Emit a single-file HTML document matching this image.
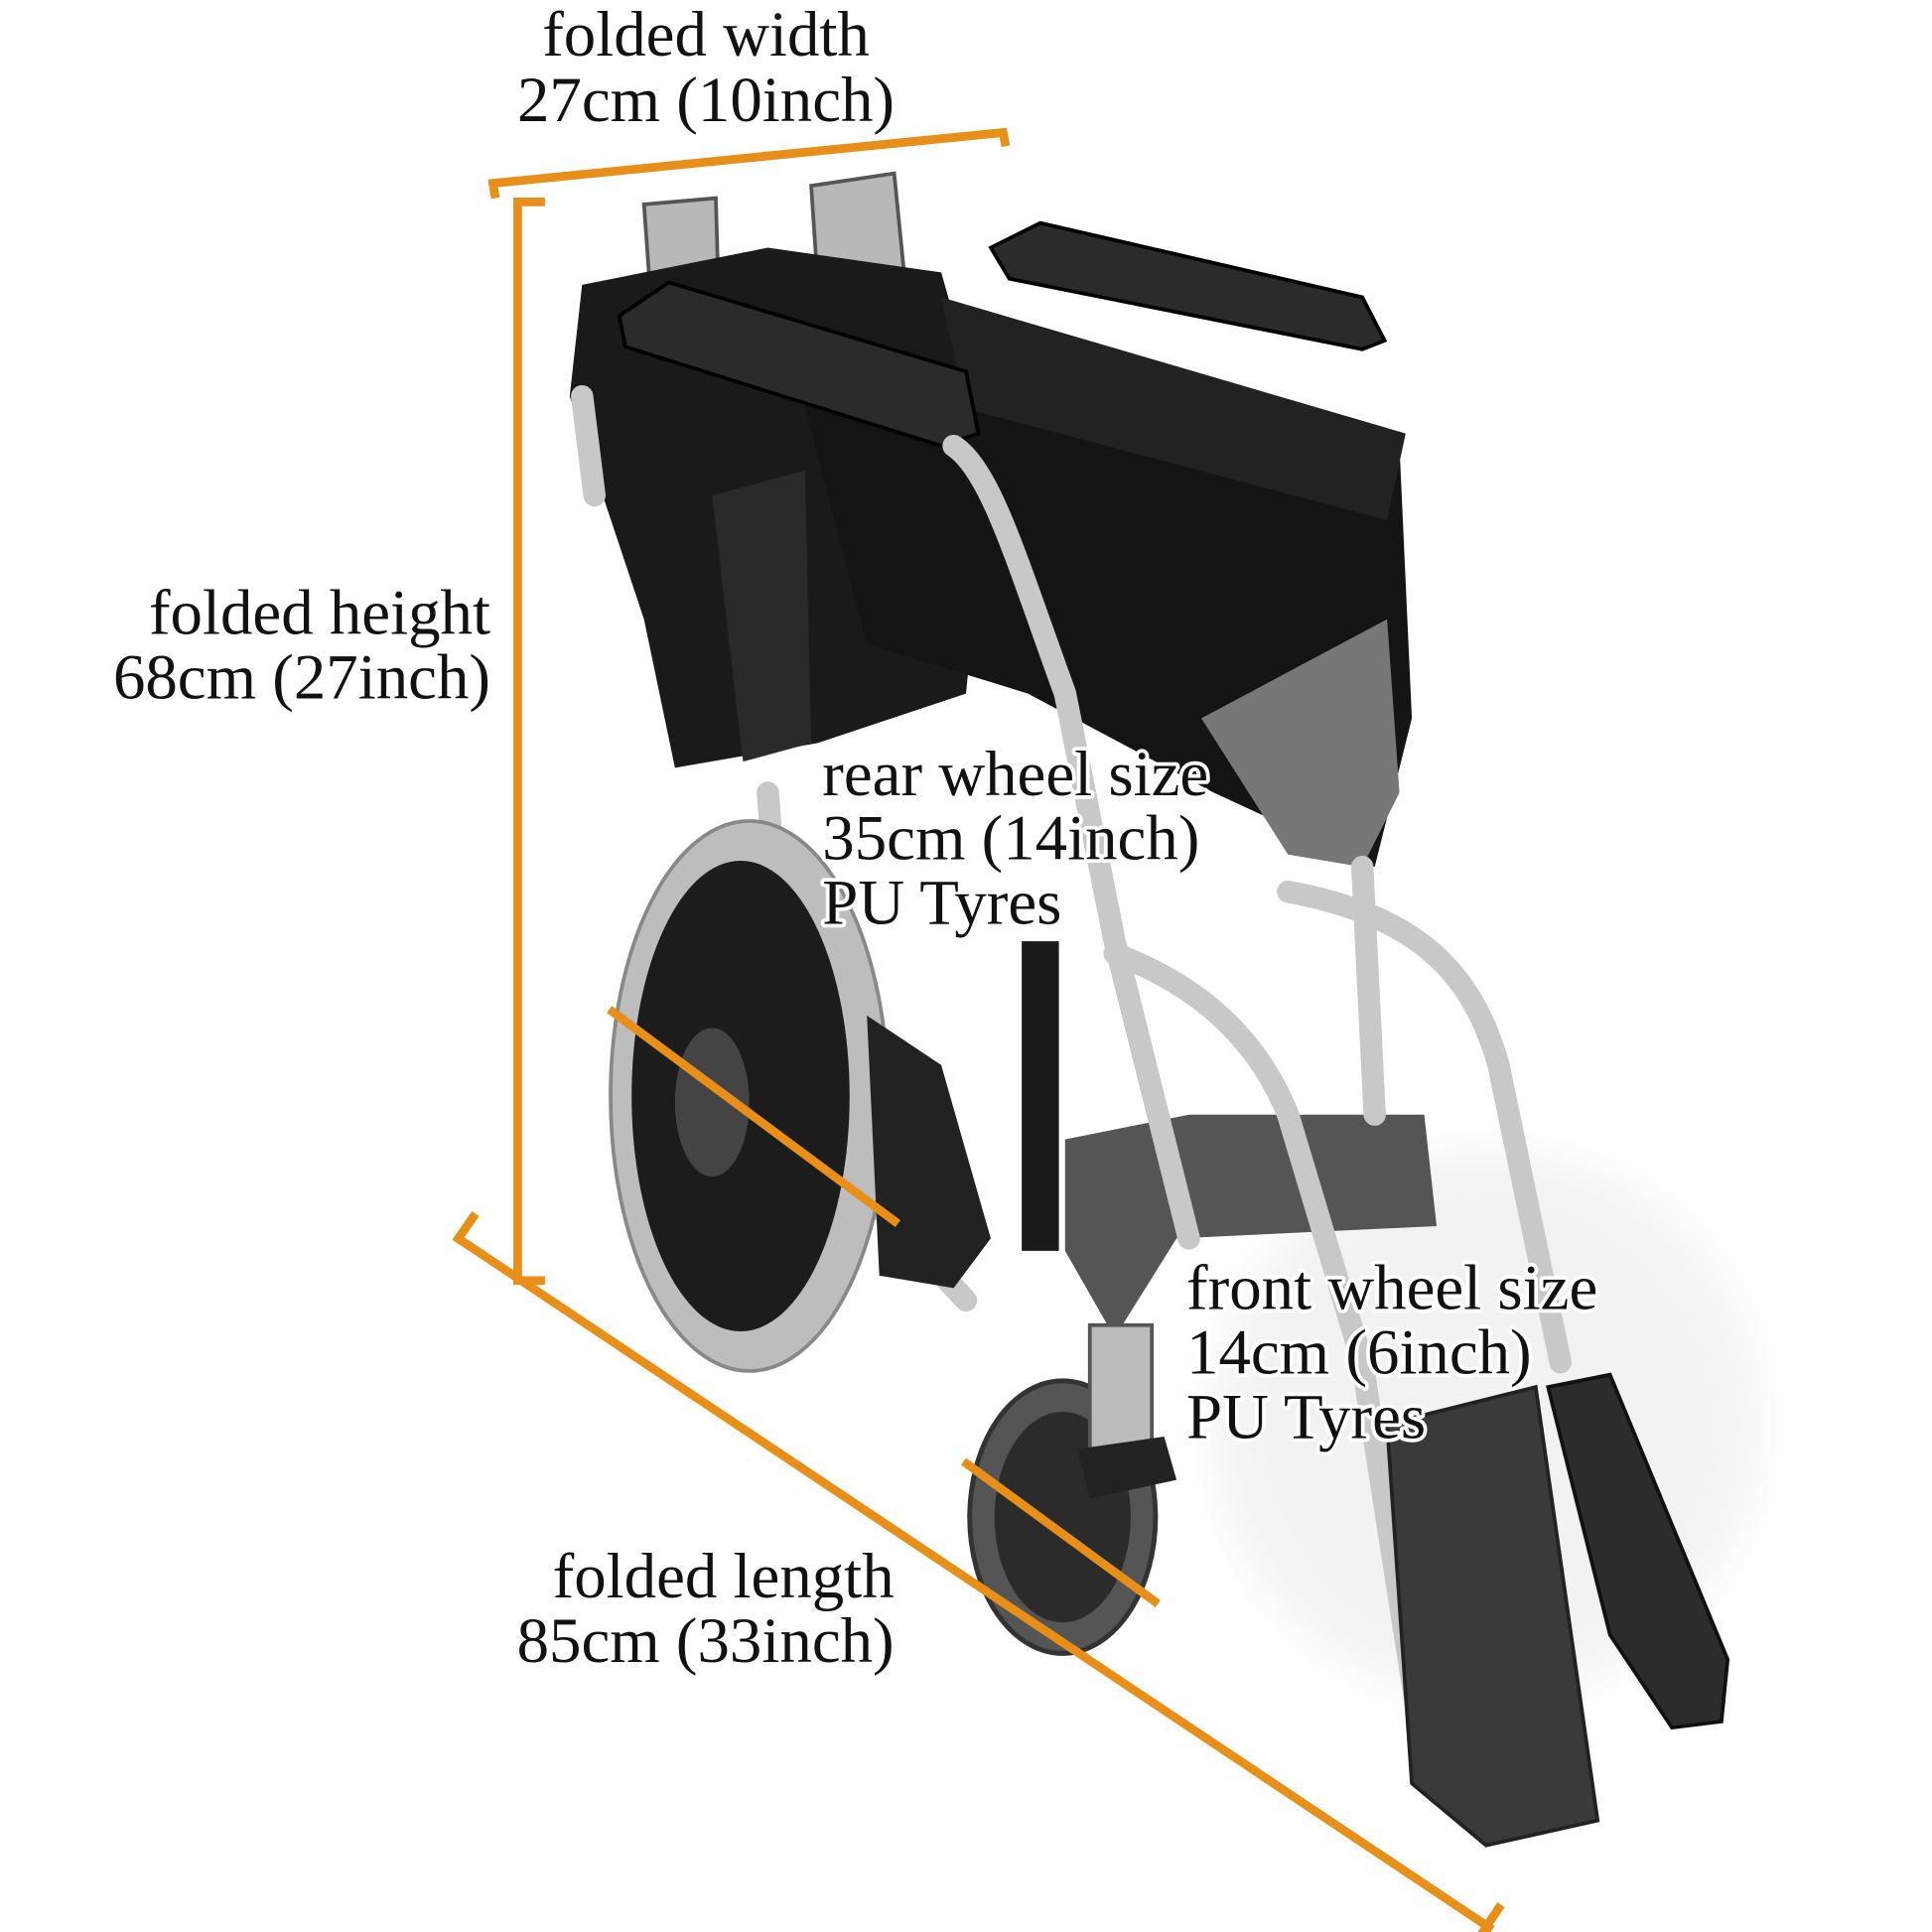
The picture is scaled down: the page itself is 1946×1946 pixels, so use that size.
<!DOCTYPE html>
<html><head><meta charset="utf-8"><style>
html,body{margin:0;padding:0;background:#fff;}
svg{display:block;}
text{font-family:"Liberation Serif",serif;font-size:52px;fill:#111;stroke:#fff;stroke-width:6px;paint-order:stroke;stroke-linejoin:round;}
</style></head><body>
<svg width="1946" height="1946" viewBox="0 0 1560 1560" xmlns="http://www.w3.org/2000/svg">
<defs>
<filter id="sh" x="-20%" y="-20%" width="140%" height="140%"><feGaussianBlur stdDeviation="18"/></filter>
</defs>
<ellipse cx="1200" cy="1150" rx="220" ry="220" fill="#e6e6e6" filter="url(#sh)" opacity="0.5"/>
<polygon points="520,165 578,160 580,230 525,235" fill="#b8b8b8" stroke="#555" stroke-width="3"/>
<polygon points="655,150 722,140 730,220 660,225" fill="#b8b8b8" stroke="#555" stroke-width="3"/>
<polygon points="470,230 620,200 760,220 800,360 780,560 660,600 545,620 520,500 460,320" fill="#1a1a1a"/>
<polygon points="575,400 650,380 655,600 600,615" fill="#2a2a2a"/>
<polygon points="640,290 1130,360 1140,580 1110,700 980,640 830,560 700,520" fill="#141414"/>
<polygon points="760,240 1135,350 1120,420 780,330" fill="#222"/>
<path d="M970,580 L1120,500 L1130,640 L1100,700 L1040,690 Z" fill="#777"/>
<path d="M860,920 L960,900 L1150,900 L1160,990 L950,1000 L900,1080 L860,1010 Z" fill="#555"/>
<polygon points="500,255 540,228 780,300 790,350 760,360 505,280" fill="#2b2b2b" stroke="#000" stroke-width="3"/>
<polygon points="800,200 840,180 1100,240 1118,275 1100,282 815,225" fill="#2b2b2b" stroke="#000" stroke-width="3"/>
<g stroke="#c8c8c8" stroke-width="18" fill="none" stroke-linecap="round">
<path d="M770,360 C800,380 820,450 860,560 L900,760 L960,1000"/>
<path d="M900,770 C980,800 1020,850 1040,900 L1100,1100 L1150,1420"/>
<path d="M1040,720 C1150,740 1190,790 1210,860 L1260,1100"/>
<path d="M1100,700 L1110,900"/>
<path d="M620,640 L640,900 L780,1050"/>
<path d="M470,320 L480,400"/>
</g>
<ellipse cx="605" cy="885" rx="112" ry="222" fill="#bdbdbd" stroke="#888" stroke-width="3"/>
<ellipse cx="598" cy="885" rx="88" ry="190" fill="#1c1c1c"/>
<ellipse cx="575" cy="890" rx="30" ry="60" fill="#444"/>
<ellipse cx="858" cy="1225" rx="75" ry="110" fill="#555" stroke="#333" stroke-width="4"/>
<ellipse cx="858" cy="1225" rx="55" ry="85" fill="#2b2b2b"/>
<rect x="880" y="1070" width="50" height="110" fill="#bbb" stroke="#555" stroke-width="3"/>
<polygon points="870,1170 940,1160 950,1195 880,1210" fill="#222"/>
<polygon points="700,820 760,860 800,1000 770,1040 710,1030" fill="#222"/>
<rect x="825" y="760" width="30" height="250" fill="#1a1a1a"/>
<polygon points="1120,1150 1240,1120 1290,1470 1200,1490 1140,1440" fill="#3a3a3a" stroke="#222" stroke-width="3"/>
<polygon points="1250,1120 1300,1110 1395,1340 1390,1390 1350,1395 1300,1320" fill="#2c2c2c" stroke="#111" stroke-width="3"/>
<g stroke="#E88F1A" stroke-width="7" fill="none">
<polyline points="400,160 398,148 810,107 812,118"/>
<polyline points="440,163 418,163 418,1034 440,1034"/>
<line x1="370" y1="1000" x2="1205" y2="1558"/>
<line x1="368" y1="1003" x2="384" y2="980"/>
<line x1="1196" y1="1562" x2="1212" y2="1538"/>
<line x1="492" y1="815" x2="725" y2="988"/>
<line x1="778" y1="1180" x2="935" y2="1295"/>
</g>
<g>
<text x="570" y="45" text-anchor="middle">folded width</text>
<text x="570" y="98" text-anchor="middle">27cm (10inch)</text>
<text x="396" y="512" text-anchor="end">folded height</text>
<text x="396" y="564" text-anchor="end">68cm (27inch)</text>
<text x="664" y="642">rear wheel size</text>
<text x="664" y="694">35cm (14inch)</text>
<text x="664" y="746">PU Tyres</text>
<text x="958" y="1057">front wheel size</text>
<text x="958" y="1109">14cm (6inch)</text>
<text x="958" y="1161">PU Tyres</text>
<text x="722" y="1290" text-anchor="end">folded length</text>
<text x="722" y="1342" text-anchor="end">85cm (33inch)</text>
</g>
</svg>
</body></html>
